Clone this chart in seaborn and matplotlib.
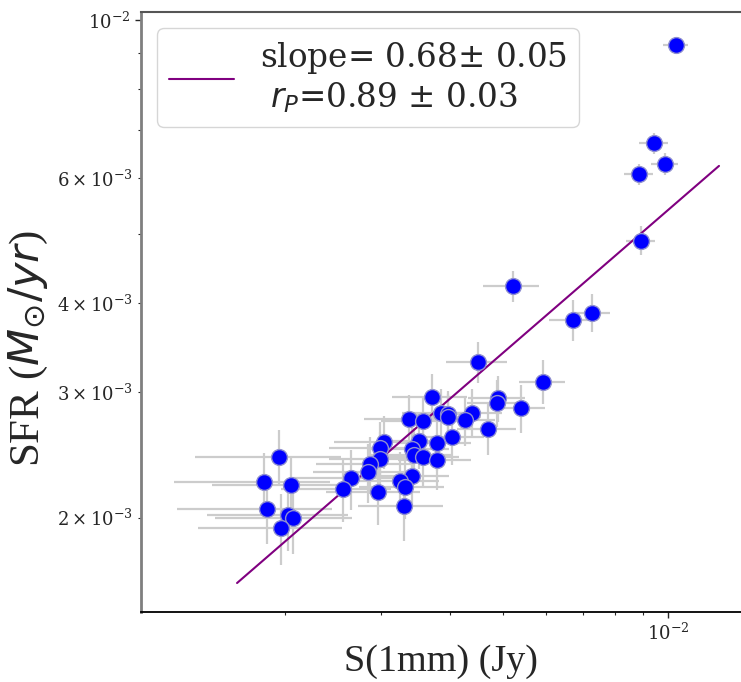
import numpy as np
import pandas as pd
import matplotlib
matplotlib.use("Agg")
import matplotlib.pyplot as plt
import seaborn as sns
from matplotlib.font_manager import FontProperties

# ---- data ----
s1mm = [4.507e-3, 5.92e-3, 3.715e-3, 4.90e-3, 4.87e-3, 5.39e-3, 3.848e-3, 3.963e-3,
        3.973e-3, 4.395e-3, 4.262e-3, 3.364e-3, 3.568e-3, 4.693e-3, 4.035e-3, 3.784e-3,
        3.512e-3, 3.036e-3, 2.982e-3, 3.407e-3, 3.440e-3, 3.577e-3, 3.794e-3, 2.982e-3,
        2.859e-3, 2.831e-3, 2.642e-3, 3.411e-3, 3.244e-3, 3.313e-3, 2.548e-3, 2.953e-3,
        3.299e-3, 1.953e-3, 1.832e-3, 2.051e-3, 1.853e-3, 2.023e-3, 2.071e-3, 1.965e-3,
        1.033e-2, 9.43e-3, 9.87e-3, 8.86e-3, 8.92e-3, 5.21e-3, 6.72e-3, 7.26e-3]
sfr = [3.311e-3, 3.105e-3, 2.958e-3, 2.943e-3, 2.901e-3, 2.849e-3, 2.809e-3, 2.797e-3,
       2.767e-3, 2.809e-3, 2.743e-3, 2.752e-3, 2.737e-3, 2.667e-3, 2.594e-3, 2.544e-3,
       2.563e-3, 2.557e-3, 2.503e-3, 2.495e-3, 2.449e-3, 2.436e-3, 2.410e-3, 2.415e-3,
       2.379e-3, 2.320e-3, 2.271e-3, 2.291e-3, 2.252e-3, 2.211e-3, 2.193e-3, 2.176e-3,
       2.077e-3, 2.436e-3, 2.247e-3, 2.223e-3, 2.057e-3, 2.016e-3, 2.000e-3, 1.936e-3,
       9.224e-3, 6.71e-3, 6.28e-3, 6.07e-3, 4.90e-3, 4.23e-3, 3.79e-3, 3.88e-3]
s1mm_err = [0.58e-3] * 40 + [0.55e-3, 0.57e-3, 0.56e-3, 0.54e-3, 0.55e-3, 0.61e-3, 0.65e-3, 0.57e-3]
sfr_err = [0.22e-3] * 40 + [0.15e-3, 0.23e-3, 0.22e-3, 0.20e-3, 0.23e-3, 0.21e-3, 0.25e-3, 0.24e-3]

slope, slope_err = 0.68, 0.05
r_p, r_p_err = 0.89, 0.03
fit_slope, fit_intercept = 0.666, -0.935
fit_x_range = [1.635e-3, 1.239e-2]

df = pd.DataFrame({"S1mm": s1mm, "SFR": sfr, "xerr": s1mm_err, "yerr": sfr_err})

sns.set_style("white")
plt.rcParams["font.family"] = ["DejaVu Serif"]
plt.rcParams["mathtext.fontset"] = "dejavuserif"

fig = plt.figure(figsize=(7.41, 6.82), dpi=100)
ax = fig.add_axes([141 / 741, 70 / 682, 600 / 741, 600 / 682])
ax.set_xscale("log")
ax.set_yscale("log")

ax.errorbar(df["S1mm"], df["SFR"], xerr=df["xerr"], yerr=df["yerr"], fmt="none",
            ecolor="#cccccc", elinewidth=1.6, zorder=1)
sns.scatterplot(data=df, x="S1mm", y="SFR", color="#0000ff", s=130,
                edgecolor="#8f8fd0", linewidth=1.0, zorder=3, ax=ax)

xs = np.geomspace(fit_x_range[0], fit_x_range[1], 50)
ys = 10 ** fit_intercept * xs ** fit_slope
label = f"slope= {slope:.2f}$\\pm$ {slope_err:.2f}\n $r_P$={r_p:.2f} $\\pm$ {r_p_err:.2f}"
sns.lineplot(x=xs, y=ys, color="purple", linewidth=1.5, label=label, ax=ax, zorder=2)

ax.set_xlim(1.092e-3, 1.359e-2)
ax.set_ylim(1.474e-3, 1.026e-2)

ax.set_xlabel("S(1mm) (Jy)", fontsize=27.5, family="Liberation Serif", labelpad=0.5)
ax.set_ylabel("SFR ($M_{\\odot}/yr$)", fontsize=31, family="Liberation Serif",
              math_fontfamily="dejavusans")
ax.yaxis.set_label_coords(-0.152, 0.44)

ax.tick_params(which="major", direction="out", length=4, width=1, labelsize=13,
               left=True, bottom=True)
ax.tick_params(which="minor", direction="out", length=2.5, width=0.8, labelsize=13,
               left=True, bottom=True)

ax.spines["right"].set_visible(False)
ax.spines["left"].set_color("#7f7f7f")
ax.spines["left"].set_linewidth(2.0)
ax.spines["top"].set_color("#555555")
ax.spines["top"].set_linewidth(1.5)
ax.spines["bottom"].set_color("black")
ax.spines["bottom"].set_linewidth(1.3)

leg = ax.legend(loc="upper left",
                prop=FontProperties(family="DejaVu Serif", size=23.5, math_fontfamily="dejavusans"),
                handlelength=2.0, handletextpad=0.8, borderpad=0.35, fancybox=True,
                framealpha=0.8, edgecolor="#cccccc")
for t in leg.get_texts():
    t.set_linespacing(1.18)

fig.savefig("out.png", dpi=100)
